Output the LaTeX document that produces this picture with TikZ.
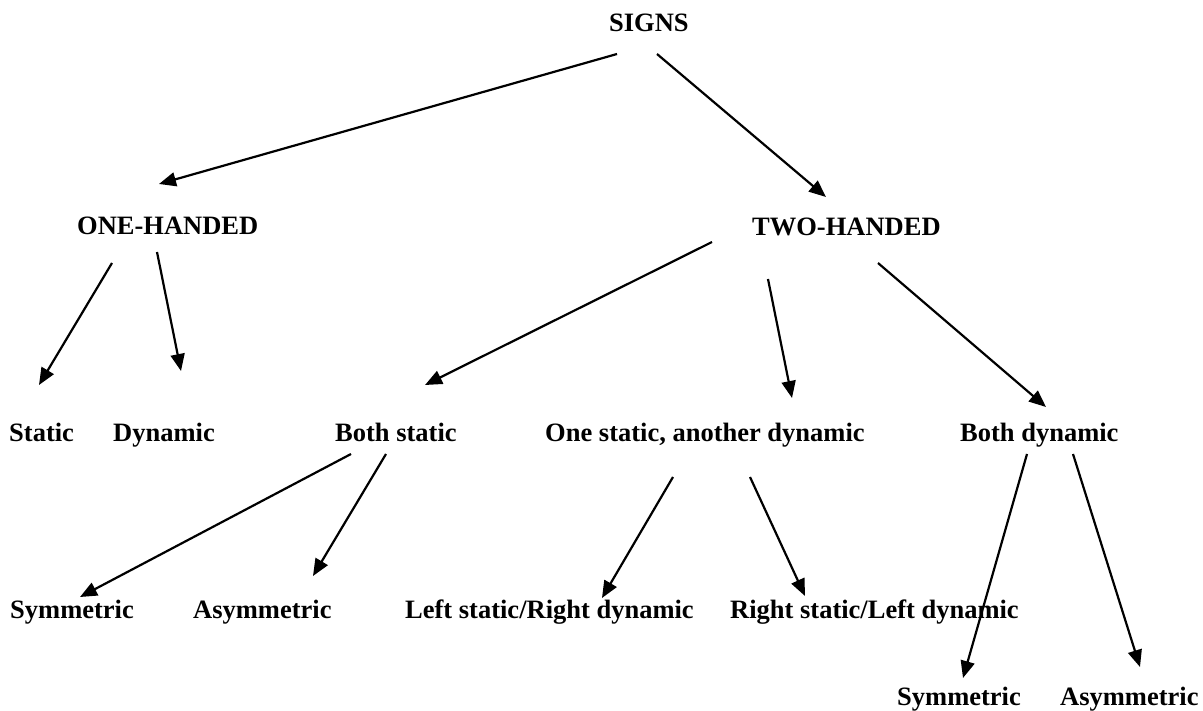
\documentclass[tikz,border=0pt]{standalone}
\usepackage{fontspec}
\setmainfont{Liberation Serif}
\usetikzlibrary{arrows.meta}
\begin{document}
\begin{tikzpicture}[x=1pt,y=-1pt,
  lbl/.style={anchor=base west, inner sep=0pt, font=\fontsize{26.5}{30}\selectfont\bfseries},
  arr/.style={-{Triangle[length=17pt,width=14pt]}, line width=2.2pt}]
\useasboundingbox (0,0) rectangle (1203,711);
% labels
\node[lbl] (signs) at (609,32) {SIGNS};
\node[lbl] (one) at (77,235) {ONE-HANDED};
\node[lbl] (two) at (752,236) {TWO-HANDED};
\node[lbl] (static) at (9,442) {Static};
\node[lbl] (dynamic) at (113,442) {Dynamic};
\node[lbl] (bothstatic) at (335,442) {Both static};
\node[lbl] (onestatic) at (545,442) {One static, another dynamic};
\node[lbl] (bothdyn) at (960,442) {Both dynamic};
\node[lbl] (sym1) at (10,618) {Symmetric};
\node[lbl] (asym1) at (193,618) {Asymmetric};
\node[lbl] (lsrd) at (405,618) {Left static/Right dynamic};
\node[lbl] (rsld) at (730,618) {Right static/Left dynamic};
\node[lbl] (sym2) at (897,705) {Symmetric};
\node[lbl] (asym2) at (1060,705) {Asymmetric};
% connector ends
\coordinate (s1) at (617,54);   \coordinate (e1) at (159,184);
\coordinate (s2) at (657,54);   \coordinate (e2) at (826,197);
\coordinate (s3) at (112,263);  \coordinate (e3) at (39,385);
\coordinate (s4) at (157,252);  \coordinate (e4) at (181,371);
\coordinate (s5) at (712,242);  \coordinate (e5) at (425,385);
\coordinate (s6) at (768,279);  \coordinate (e6) at (792,398);
\coordinate (s7) at (878,263);  \coordinate (e7) at (1046,407);
\coordinate (s8) at (351,454);  \coordinate (e8) at (80,597);
\coordinate (s9) at (386,454);  \coordinate (e9) at (313,576);
\coordinate (s10) at (673,477); \coordinate (e10) at (602,598);
\coordinate (s11) at (750,477); \coordinate (e11) at (805,596);
\coordinate (s12) at (1027,454);\coordinate (e12) at (963,678);
\coordinate (s13) at (1073,454);\coordinate (e13) at (1140,667);
% connectors
\foreach \i in {1,...,13} {\draw[arr] (s\i) -- (e\i);}
\end{tikzpicture}
\end{document}
